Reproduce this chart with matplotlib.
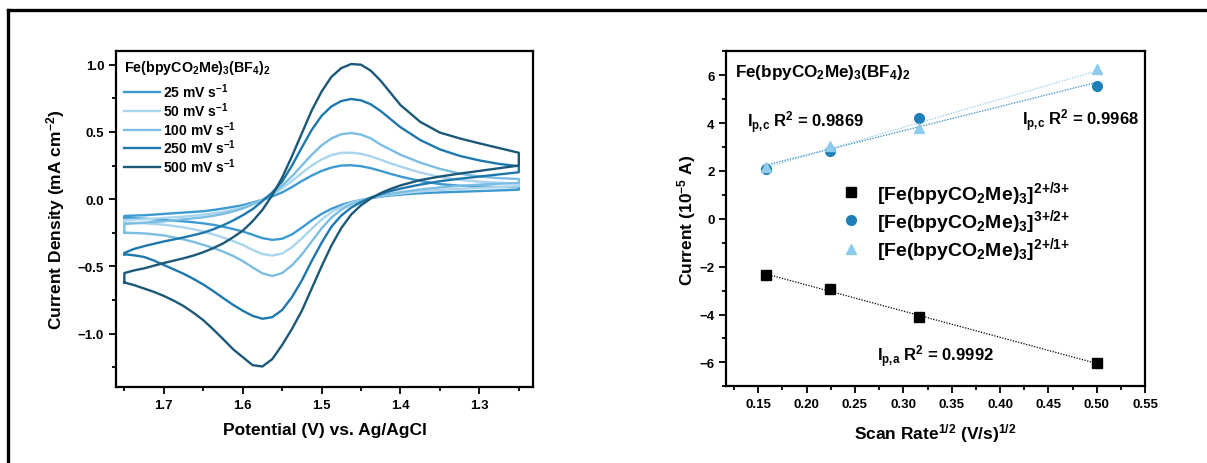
import numpy as np
import matplotlib
matplotlib.use('Agg')
import matplotlib.pyplot as plt
from matplotlib.lines import Line2D
from matplotlib.ticker import MultipleLocator

plt.rcParams['font.family'] = ['Liberation Sans', 'DejaVu Sans']
plt.rcParams['font.weight'] = 'bold'
plt.rcParams['axes.labelweight'] = 'bold'
plt.rcParams['mathtext.fontset'] = 'custom'
plt.rcParams['mathtext.default'] = 'bf'
plt.rcParams['mathtext.bf'] = 'Liberation Sans:bold'
plt.rcParams['mathtext.rm'] = 'Liberation Sans:bold'
plt.rcParams['mathtext.it'] = 'Liberation Sans:bold'

# ---- CV data (potential grid shared by all sweeps, V vs Ag/AgCl) ----
potential = [1.75, 1.7375, 1.725, 1.7125, 1.70, 1.6875, 1.675, 1.6625, 1.65, 1.6375,
             1.625, 1.6125, 1.60, 1.5875, 1.575, 1.5625, 1.55, 1.5375, 1.525, 1.5125,
             1.50, 1.4875, 1.475, 1.4625, 1.45, 1.4375, 1.425, 1.4125, 1.40, 1.375,
             1.35, 1.325, 1.30, 1.275, 1.25]

scan_rates = ['25', '50', '100', '250', '500']

# upper (oxidation peak) branches, mA cm-2
up_25 = [-0.125, -0.122, -0.12, -0.115, -0.11, -0.105, -0.10, -0.095, -0.09, -0.081,
         -0.07, -0.058, -0.045, -0.025, -0.005, 0.02, 0.05, 0.09, 0.135, 0.175,
         0.21, 0.235, 0.25, 0.252, 0.245, 0.23, 0.21, 0.188, 0.168, 0.135,
         0.112, 0.10, 0.095, 0.09, 0.09]
up_50 = [-0.155, -0.152, -0.15, -0.145, -0.14, -0.135, -0.13, -0.123, -0.115, -0.106,
         -0.095, -0.079, -0.06, -0.035, -0.005, 0.035, 0.08, 0.135, 0.195, 0.25,
         0.295, 0.328, 0.344, 0.346, 0.337, 0.318, 0.293, 0.266, 0.242, 0.198,
         0.165, 0.143, 0.13, 0.122, 0.117]
up_100 = [-0.185, -0.18, -0.175, -0.17, -0.165, -0.158, -0.15, -0.143, -0.135, -0.124,
          -0.11, -0.092, -0.07, -0.04, -0.005, 0.04, 0.10, 0.17, 0.25, 0.33,
          0.40, 0.452, 0.483, 0.492, 0.48, 0.452, 0.405, 0.368, 0.33, 0.272,
          0.225, 0.19, 0.168, 0.156, 0.15]
up_250 = [-0.40, -0.37, -0.35, -0.332, -0.315, -0.30, -0.285, -0.268, -0.25, -0.225,
          -0.195, -0.16, -0.12, -0.075, -0.015, 0.05, 0.13, 0.25, 0.385, 0.515,
          0.62, 0.69, 0.73, 0.745, 0.735, 0.705, 0.655, 0.595, 0.535, 0.44,
          0.37, 0.322, 0.288, 0.262, 0.245]
up_500 = [-0.55, -0.53, -0.515, -0.495, -0.475, -0.458, -0.44, -0.42, -0.395, -0.365,
          -0.33, -0.285, -0.235, -0.165, -0.08, 0.03, 0.16, 0.32, 0.49, 0.66,
          0.80, 0.91, 0.975, 1.005, 1.0, 0.955, 0.88, 0.79, 0.70, 0.575,
          0.495, 0.452, 0.415, 0.38, 0.345]

# lower (reduction peak) branches, mA cm-2
low_25 = [-0.14, -0.142, -0.145, -0.15, -0.155, -0.16, -0.165, -0.172, -0.18, -0.191,
          -0.205, -0.222, -0.24, -0.265, -0.29, -0.303, -0.295, -0.262, -0.212, -0.158,
          -0.11, -0.072, -0.043, -0.022, -0.006, 0.008, 0.018, 0.027, 0.034, 0.044,
          0.05, 0.055, 0.06, 0.065, 0.07]
low_50 = [-0.175, -0.177, -0.18, -0.185, -0.19, -0.20, -0.21, -0.224, -0.24, -0.261,
          -0.285, -0.312, -0.34, -0.378, -0.408, -0.42, -0.405, -0.358, -0.292, -0.22,
          -0.152, -0.097, -0.057, -0.027, -0.007, 0.009, 0.022, 0.033, 0.042, 0.057,
          0.068, 0.077, 0.084, 0.09, 0.095]
low_100 = [-0.25, -0.252, -0.255, -0.262, -0.27, -0.284, -0.30, -0.318, -0.34, -0.363,
           -0.39, -0.422, -0.46, -0.508, -0.552, -0.572, -0.55, -0.492, -0.412, -0.315,
           -0.218, -0.137, -0.078, -0.038, -0.012, 0.008, 0.026, 0.04, 0.052, 0.072,
           0.087, 0.099, 0.108, 0.115, 0.12]
low_250 = [-0.41, -0.418, -0.43, -0.457, -0.49, -0.522, -0.555, -0.593, -0.635, -0.683,
           -0.735, -0.785, -0.83, -0.868, -0.89, -0.878, -0.825, -0.728, -0.605, -0.46,
           -0.325, -0.205, -0.122, -0.063, -0.022, 0.012, 0.038, 0.06, 0.078, 0.108,
           0.133, 0.152, 0.168, 0.184, 0.20]
low_500 = [-0.62, -0.64, -0.665, -0.69, -0.72, -0.755, -0.795, -0.845, -0.90, -0.968,
           -1.04, -1.115, -1.175, -1.235, -1.245, -1.19, -1.085, -0.965, -0.83, -0.665,
           -0.50, -0.345, -0.215, -0.115, -0.045, 0.005, 0.045, 0.076, 0.102, 0.142,
           0.168, 0.19, 0.21, 0.23, 0.25]

upper = [up_25, up_50, up_100, up_250, up_500]
lower = [low_25, low_50, low_100, low_250, low_500]
cv_colors = ['#3d9ad1', '#a9d5ee', '#7cbde3', '#1f78ad', '#1c5878']

# ---- peak current vs sqrt(scan rate) ----
sqrt_rate = [0.158, 0.224, 0.316, 0.500]
ip_23 = [-2.33, -2.95, -4.10, -6.03]
ip_32 = [2.10, 2.85, 4.20, 5.55]
ip_21 = [2.15, 3.05, 3.80, 6.25]

fig = plt.figure(figsize=(12.07, 4.64), dpi=100)

# ---------------- left: cyclic voltammograms ----------------
ax1 = fig.add_axes([0.0961, 0.1631, 0.3455, 0.7254])
E = np.array(potential)
for up, lo, c, r in zip(upper, lower, cv_colors, scan_rates):
    x = np.concatenate([E, E[::-1], E[:1]])
    y = np.concatenate([lo, up[::-1], lo[:1]])
    ax1.plot(x, y, color=c, lw=1.7, label=r + ' mV s$^{-1}$', solid_joinstyle='round')

ax1.set_xlim(1.7606, 1.232)
ax1.set_ylim(-1.40, 1.104)
ax1.xaxis.set_major_locator(MultipleLocator(0.1))
ax1.xaxis.set_minor_locator(MultipleLocator(0.05))
ax1.yaxis.set_major_locator(MultipleLocator(0.5))
ax1.yaxis.set_minor_locator(MultipleLocator(0.25))
ax1.set_xlabel('Potential (V) vs. Ag/AgCl', fontsize=12.5, labelpad=8)
ax1.set_ylabel('Current Density (mA cm$^{-2}$)', fontsize=12.5, labelpad=8)
ax1.text(0.019, 0.952, 'Fe(bpyCO$_2$Me)$_3$(BF$_4$)$_2$', transform=ax1.transAxes,
         fontsize=10.3, va='center', ha='left')
ax1.legend(loc='upper left', bbox_to_anchor=(-0.01, 0.945), frameon=False,
           fontsize=10, handlelength=2.6, handletextpad=0.2, labelspacing=0.0)

# ---------------- right: peak current fits ----------------
ax2 = fig.add_axes([0.6017, 0.1653, 0.3471, 0.722])
xs = np.array(sqrt_rate)
series = [(ip_23, 's', 'black', '[Fe(bpyCO$_2$Me)$_3$]$^{2{+}/3{+}}$'),
          (ip_32, 'o', '#1f7fb8', '[Fe(bpyCO$_2$Me)$_3$]$^{3{+}/2{+}}$'),
          (ip_21, '^', '#8fcbec', '[Fe(bpyCO$_2$Me)$_3$]$^{2{+}/1{+}}$')]
for vals, m, c, lab in series:
    k, b = np.polyfit(xs, vals, 1)
    ax2.plot(xs[[0, -1]], k * xs[[0, -1]] + b, ls=(0, (1, 1.2)), lw=0.9, color=c)
for vals, m, c, lab in series:
    ax2.plot(xs, vals, ls='none', marker=m, ms=7, color=c, label=lab)

ax2.set_xlim(0.117, 0.55)
ax2.set_ylim(-7, 7)
ax2.xaxis.set_major_locator(MultipleLocator(0.05))
ax2.xaxis.set_minor_locator(MultipleLocator(0.025))
ax2.yaxis.set_major_locator(MultipleLocator(2))
ax2.yaxis.set_minor_locator(MultipleLocator(1))
ax2.set_xlabel('Scan Rate$^{1/2}$ (V/s)$^{1/2}$', fontsize=12.5, labelpad=8)
ax2.set_ylabel('Current (10$^{-5}$ A)', fontsize=12.5, labelpad=1)
ax2.legend(loc='upper left', bbox_to_anchor=(0.232, 0.671), frameon=False,
           fontsize=14, handletextpad=0.85, labelspacing=0.02, handlelength=1.0)

ax2.text(0.02, 0.94, 'Fe(bpyCO$_2$Me)$_3$(BF$_4$)$_2$', transform=ax2.transAxes,
         fontsize=12.3, va='center', ha='left')
ax2.text(0.05, 0.79, 'I$_{p{,}c}$ R$^2$ = 0.9869', transform=ax2.transAxes,
         fontsize=12, va='center', ha='left')
ax2.text(0.985, 0.795, 'I$_{p{,}c}$ R$^2$ = 0.9968', transform=ax2.transAxes,
         fontsize=12, va='center', ha='right')
ax2.text(0.36, 0.09, 'I$_{p{,}a}$ R$^2$ = 0.9992', transform=ax2.transAxes,
         fontsize=12, va='center', ha='left')

for ax in (ax1, ax2):
    for s in ax.spines.values():
        s.set_linewidth(1.6)
    ax.tick_params(which='both', direction='out', width=1.3, labelsize=9.5,
                   top=False, right=False)
    ax.tick_params(which='major', length=5)
    ax.tick_params(which='minor', length=3)

# outer frame
fx, fy = 8 / 1207, 1 - 11 / 464
fig.add_artist(Line2D([fx, 1.0], [fy, fy], transform=fig.transFigure, color='black', lw=2.4))
fig.add_artist(Line2D([fx, fx], [0.0, fy], transform=fig.transFigure, color='black', lw=2.4))

fig.savefig('out.png', dpi=100)
